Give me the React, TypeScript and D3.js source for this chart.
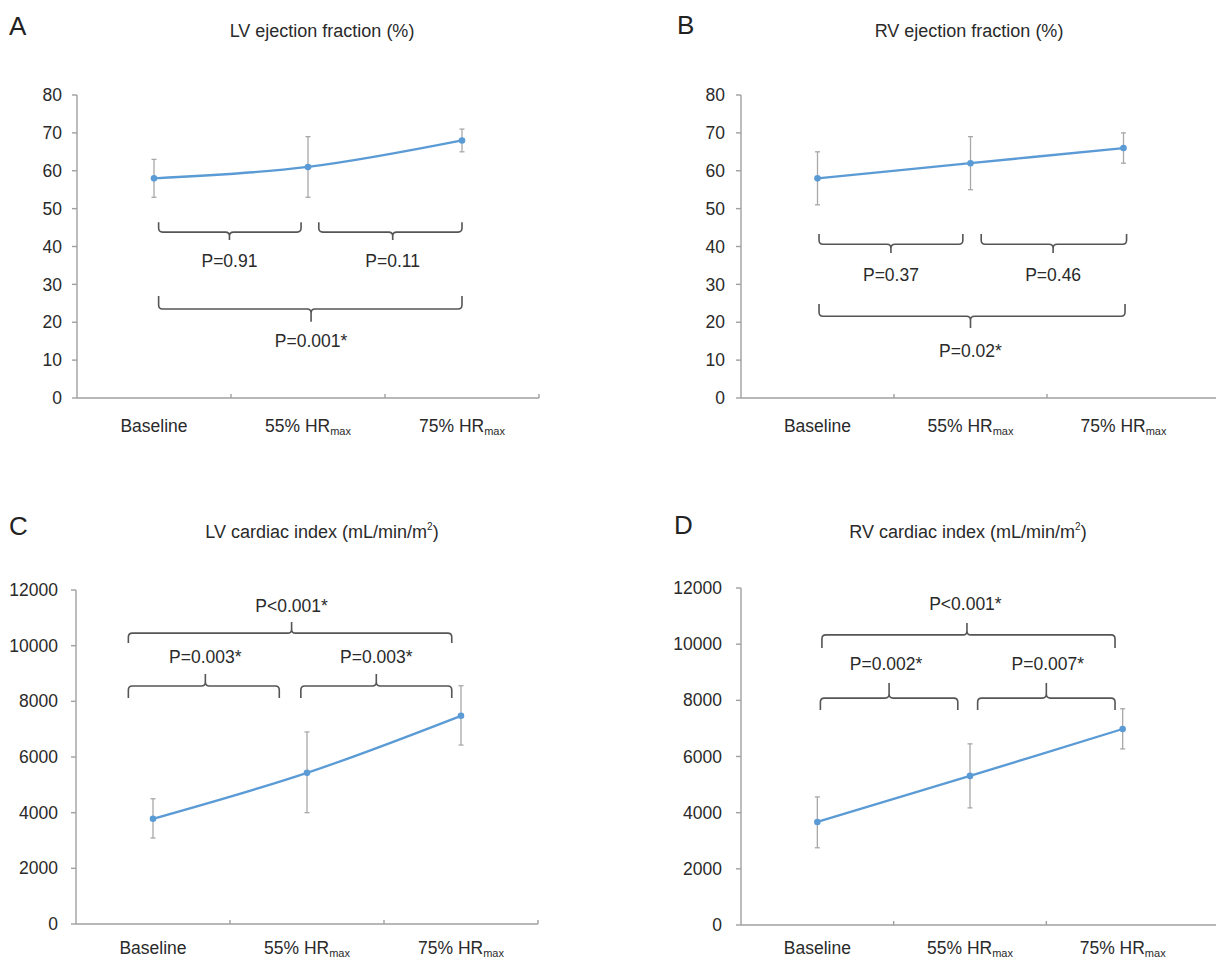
import React from "react";
import * as d3 from "d3";

// ---------- Data ----------
const categories = ["Baseline", "55% HR", "75% HR"];
const categorySubs = ["", "max", "max"];

const efTicks = [0, 10, 20, 30, 40, 50, 60, 70, 80];
const ciTicks = [0, 2000, 4000, 6000, 8000, 10000, 12000];

const lvefMean = [58, 61, 68];
const lvefLow = [53, 53, 65];
const lvefHigh = [63, 69, 71];

const rvefMean = [58, 62, 66];
const rvefLow = [51, 55, 62];
const rvefHigh = [65, 69, 70];

const lvciMean = [3780, 5430, 7480];
const lvciLow = [3090, 4000, 6430];
const lvciHigh = [4500, 6900, 8560];

const rvciMean = [3670, 5310, 6980];
const rvciLow = [2750, 4170, 6270];
const rvciHigh = [4560, 6450, 7700];

// comparison brackets: from/to/tip in category-index units, levels in data units
type Bracket = { from: number; to: number; tip: number; end: number; h: number; tipY: number; text: string; textX: number; textY: number };

const lvefBrackets: Bracket[] = [
  { from: 0.03, to: 0.955, tip: 0.49, end: 46.4, h: 43.8, tipY: 41.7, text: "P=0.91", textX: 0.49, textY: 34.6 },
  { from: 1.07, to: 2.0, tip: 1.55, end: 46.4, h: 43.8, tipY: 41.7, text: "P=0.11", textX: 1.55, textY: 34.6 },
  { from: 0.03, to: 2.0, tip: 1.02, end: 26.9, h: 23.5, tipY: 20.1, text: "P=0.001*", textX: 1.02, textY: 13.5 },
];
const rvefBrackets: Bracket[] = [
  { from: 0.01, to: 0.95, tip: 0.48, end: 43.3, h: 40.6, tipY: 38.3, text: "P=0.37", textX: 0.48, textY: 30.9 },
  { from: 1.07, to: 2.02, tip: 1.54, end: 43.3, h: 40.6, tipY: 38.3, text: "P=0.46", textX: 1.54, textY: 30.9 },
  { from: 0.01, to: 2.01, tip: 1.0, end: 24.8, h: 21.6, tipY: 18.5, text: "P=0.02*", textX: 1.0, textY: 10.8 },
];
const lvciBrackets: Bracket[] = [
  { from: -0.16, to: 1.94, tip: 0.9, end: 10100, h: 10450, tipY: 10850, text: "P<0.001*", textX: 0.9, textY: 11210 },
  { from: -0.16, to: 0.82, tip: 0.34, end: 8120, h: 8550, tipY: 8980, text: "P=0.003*", textX: 0.34, textY: 9380 },
  { from: 0.96, to: 1.94, tip: 1.45, end: 8120, h: 8550, tipY: 8980, text: "P=0.003*", textX: 1.45, textY: 9380 },
];
const rvciBrackets: Bracket[] = [
  { from: 0.03, to: 1.95, tip: 0.98, end: 9860, h: 10330, tipY: 10750, text: "P<0.001*", textX: 0.97, textY: 11220 },
  { from: 0.02, to: 0.92, tip: 0.47, end: 7660, h: 8080, tipY: 8620, text: "P=0.002*", textX: 0.45, textY: 9080 },
  { from: 1.05, to: 1.95, tip: 1.5, end: 7660, h: 8080, tipY: 8620, text: "P=0.007*", textX: 1.51, textY: 9080 },
];

// ---------- Layout ----------
const FONT = "'Liberation Sans', Arial, Helvetica, sans-serif";
const LINE = "#5b9bd5";
const AXIS = "#a0a0a0";
const ERR = "#a8a8a8";
const BRK = "#555";
const TXT = "#2a2a2a";

type Panel = {
  letter: string; letterX: number; letterY: number;
  title: string; titleSup?: string; titleX: number; titleY: number;
  left: number; right: number; axisEnd: number; top: number; bottom: number;
  yMax: number; ticks: number[]; labelGap: number; xLabelY: number;
  mean: number[]; low: number[]; high: number[]; brackets: Bracket[];
};

const panels: Panel[] = [
  { letter: "A", letterX: 9, letterY: 35, title: "LV ejection fraction (%)", titleX: 322, titleY: 37,
    left: 77, right: 539, axisEnd: 539, top: 95, bottom: 398, yMax: 80, ticks: efTicks, labelGap: 15, xLabelY: 432,
    mean: lvefMean, low: lvefLow, high: lvefHigh, brackets: lvefBrackets },
  { letter: "B", letterX: 677, letterY: 34, title: "RV ejection fraction (%)", titleX: 969, titleY: 37,
    left: 741, right: 1200, axisEnd: 1216, top: 95, bottom: 398, yMax: 80, ticks: efTicks, labelGap: 16, xLabelY: 432,
    mean: rvefMean, low: rvefLow, high: rvefHigh, brackets: rvefBrackets },
  { letter: "C", letterX: 9, letterY: 535, title: "LV cardiac index (mL/min/m", titleSup: "2", titleX: 322, titleY: 538,
    left: 76, right: 538, axisEnd: 538, top: 590, bottom: 924, yMax: 12000, ticks: ciTicks, labelGap: 18, xLabelY: 954,
    mean: lvciMean, low: lvciLow, high: lvciHigh, brackets: lvciBrackets },
  { letter: "D", letterX: 674, letterY: 534, title: "RV cardiac index (mL/min/m", titleSup: "2", titleX: 968, titleY: 538,
    left: 741, right: 1199, axisEnd: 1216, top: 588, bottom: 925, yMax: 12000, ticks: ciTicks, labelGap: 19, xLabelY: 954,
    mean: rvciMean, low: rvciLow, high: rvciHigh, brackets: rvciBrackets },
];

function bracketPath(x1: number, x2: number, xm: number, yEnd: number, yH: number, yTip: number) {
  const r = 4;
  const e = Math.sign(yH - yEnd);
  const s = Math.sign(yTip - yH);
  return [
    `M${x1},${yEnd}`,
    `L${x1},${yH - e * r}`,
    `Q${x1},${yH} ${x1 + r},${yH}`,
    `L${xm - r},${yH}`,
    `Q${xm},${yH} ${xm},${yH + s * r}`,
    `L${xm},${yTip}`,
    `M${xm},${yH + s * r}`,
    `Q${xm},${yH} ${xm + r},${yH}`,
    `L${x2 - r},${yH}`,
    `Q${x2},${yH} ${x2},${yH - e * r}`,
    `L${x2},${yEnd}`,
  ].join(" ");
}

function PanelView({ p }: { p: Panel }) {
  const x = d3.scaleLinear().domain([-0.5, 2.5]).range([p.left, p.right]);
  const y = d3.scaleLinear().domain([0, p.yMax]).range([p.bottom, p.top]);
  const band = (p.right - p.left) / 3;
  const line = d3
    .line<number>()
    .x((_, i) => x(i))
    .y((d) => y(d))
    .curve(d3.curveCatmullRom.alpha(0.5));
  const boundaries = (p.axisEnd > p.right + 2 ? [1, 2] : [1, 2, 3]).map((k) => p.left + k * band);

  return (
    <g>
      <text x={p.letterX} y={p.letterY} fontSize={26} fill="#222" fontFamily={FONT}>{p.letter}</text>
      <text x={p.titleX} y={p.titleY} fontSize={18} fill={TXT} textAnchor="middle" fontFamily={FONT}>
        {p.title}
        {p.titleSup ? <tspan fontSize={10} dy={-8}>{p.titleSup}</tspan> : null}
        {p.titleSup ? <tspan dy={8}>)</tspan> : null}
      </text>

      {/* y axis */}
      <line x1={p.left} x2={p.left} y1={y(p.yMax)} y2={y(0)} stroke={AXIS} strokeWidth={1.4} />
      {p.ticks.map((t) => (
        <g key={t}>
          <line x1={p.left - 5} x2={p.left} y1={y(t)} y2={y(t)} stroke={AXIS} strokeWidth={1.4} />
          <text x={p.left - p.labelGap} y={y(t)} dy="0.35em" fontSize={17.5} fill={TXT} textAnchor="end" fontFamily={FONT}>{t}</text>
        </g>
      ))}

      {/* x axis */}
      <line x1={p.left} x2={p.axisEnd} y1={y(0)} y2={y(0)} stroke={AXIS} strokeWidth={1.4} />
      {boundaries.map((bx, i) => (
        <line key={i} x1={bx} x2={bx} y1={y(0)} y2={y(0) - 4} stroke={AXIS} strokeWidth={1.4} />
      ))}
      {categories.map((c, i) => (
        <text key={c} x={x(i)} y={p.xLabelY} fontSize={17.5} fill={TXT} textAnchor="middle" fontFamily={FONT}>
          {c}
          {categorySubs[i] ? <tspan fontSize={11} dy={3}>{categorySubs[i]}</tspan> : null}
        </text>
      ))}

      {/* error bars */}
      {p.mean.map((_, i) => (
        <g key={i} stroke={ERR} strokeWidth={1.3}>
          <line x1={x(i)} x2={x(i)} y1={y(p.low[i])} y2={y(p.high[i])} />
          <line x1={x(i) - 2.5} x2={x(i) + 2.5} y1={y(p.low[i])} y2={y(p.low[i])} />
          <line x1={x(i) - 2.5} x2={x(i) + 2.5} y1={y(p.high[i])} y2={y(p.high[i])} />
        </g>
      ))}

      {/* line + markers */}
      <path d={line(p.mean) || ""} fill="none" stroke={LINE} strokeWidth={2.3} />
      {p.mean.map((v, i) => (
        <circle key={i} cx={x(i)} cy={y(v)} r={3.3} fill={LINE} />
      ))}

      {/* brackets */}
      {p.brackets.map((b, i) => (
        <g key={i}>
          <path d={bracketPath(x(b.from), x(b.to), x(b.tip), y(b.end), y(b.h), y(b.tipY))} fill="none" stroke={BRK} strokeWidth={1.6} />
          <text x={x(b.textX)} y={y(b.textY)} fontSize={17.5} fill={TXT} textAnchor="middle" fontFamily={FONT}>{b.text}</text>
        </g>
      ))}
    </g>
  );
}

export default function App() {
  return (
    <svg width={1216} height={961} style={{ position: "absolute", left: 0, top: 0, background: "#fff" }}>
      <rect width={1216} height={961} fill="#fff" />
      {panels.map((p) => (
        <PanelView key={p.letter} p={p} />
      ))}
    </svg>
  );
}
